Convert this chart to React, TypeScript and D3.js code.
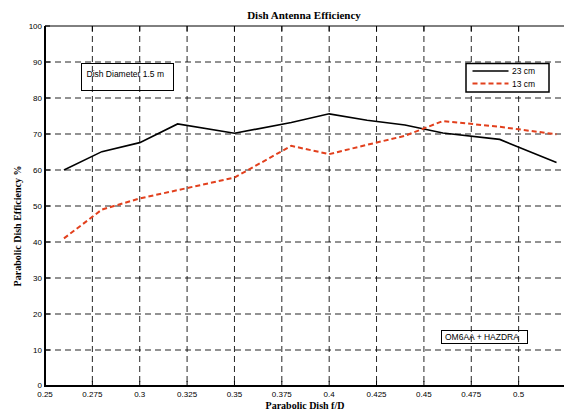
import React from 'react';
import * as d3 from 'd3';

// f/D values where efficiency was computed
const fd = [0.26, 0.28, 0.3, 0.32, 0.35, 0.38, 0.4, 0.42, 0.44, 0.46, 0.49, 0.52];
// efficiency %, 23 cm band
const eff23 = [60, 65.1, 67.6, 72.8, 70.2, 73.2, 75.6, 73.8, 72.5, 70.3, 68.5, 62.1];
// efficiency %, 13 cm band
const eff13 = [41, 49, 52.1, 54.4, 57.9, 66.7, 64.4, 67, 69.5, 73.6, 72, 69.9];

const xTicks = [0.25, 0.275, 0.3, 0.325, 0.35, 0.375, 0.4, 0.425, 0.45, 0.475, 0.5];
const yTicks = [0, 10, 20, 30, 40, 50, 60, 70, 80, 90, 100];
const seriesNames = ['23 cm', '13 cm'];

const W = 564, H = 413;
const left = 45, right = 566, top = 26, bottom = 386;
const red = '#e2401d';
const sans = 'Liberation Sans, Arial, sans-serif';
const serif = 'Liberation Serif, Times New Roman, serif';

export default function App() {
  const x = d3.scaleLinear().domain([0.25, 0.525]).range([left, right]);
  const y = d3.scaleLinear().domain([0, 100]).range([bottom, top]);

  const line = d3.line<number>()
    .x((d, i) => x(fd[i]))
    .y(d => y(d));

  return (
    <svg width={W} height={H} style={{ position: 'absolute', left: 0, top: 0, background: '#fff' }}>
      {/* grid */}
      {yTicks.filter(t => t > 0 && t < 100).map(t => (
        <line key={'gy' + t} x1={left} x2={right} y1={y(t)} y2={y(t)}
          stroke="#000" strokeWidth={1} strokeDasharray="6,4" opacity={0.85} />
      ))}
      {xTicks.filter(t => t > 0.25).map(t => (
        <line key={'gx' + t} x1={x(t)} x2={x(t)} y1={top} y2={bottom}
          stroke="#000" strokeWidth={1} strokeDasharray="6,4" opacity={0.85} />
      ))}

      {/* frame */}
      <line x1={left} x2={right} y1={top} y2={top} stroke="#000" strokeWidth={1} />
      <line x1={left} x2={left} y1={top} y2={bottom + 1} stroke="#000" strokeWidth={2} />
      <line x1={left - 1} x2={right} y1={bottom} y2={bottom} stroke="#000" strokeWidth={2} />

      {/* ticks + labels */}
      {yTicks.map(t => (
        <g key={'ty' + t}>
          <line x1={left} x2={left + 5} y1={y(t)} y2={y(t)} stroke="#000" strokeWidth={1} />
          <text x={42} y={y(t) + (t === 0 ? 2 : 3)} textAnchor="end" fontFamily={sans} fontSize={8}>{t}</text>
        </g>
      ))}
      {xTicks.map(t => (
        <g key={'tx' + t}>
          <line x1={x(t)} x2={x(t)} y1={bottom} y2={bottom - 5} stroke="#000" strokeWidth={1} />
          <line x1={x(t)} x2={x(t)} y1={top} y2={top + 5} stroke="#000" strokeWidth={1} />
          <text x={x(t)} y={397} textAnchor="middle" fontFamily={sans} fontSize={8}>{String(t)}</text>
        </g>
      ))}

      {/* series */}
      <path d={line(eff23) || ''} fill="none" stroke="#000" strokeWidth={1.6} />
      <path d={line(eff13) || ''} fill="none" stroke={red} strokeWidth={2} strokeDasharray="5,3" />

      {/* titles */}
      <text x={304} y={19} textAnchor="middle" fontFamily={serif} fontWeight="bold" fontSize={11}>Dish Antenna Efficiency</text>
      <text x={305} y={409} textAnchor="middle" fontFamily={serif} fontWeight="bold" fontSize={10}>Parabolic Dish f/D</text>
      <text transform="translate(21,226) rotate(-90)" textAnchor="middle" fontFamily={serif} fontWeight="bold" fontSize={10}>Parabolic Dish Efficiency %</text>

      {/* annotation boxes */}
      <rect x={81.5} y={63.5} width={92} height={27} fill="none" stroke="#000" strokeWidth={1} />
      <text x={86.5} y={77} fontFamily={sans} fontSize={8.5}>Dish Diameter 1.5 m</text>

      <rect x={441.5} y={330.5} width={86} height={13} fill="none" stroke="#000" strokeWidth={1} />
      <text x={445} y={339.5} fontFamily={sans} fontSize={8.5}>OM6AA + HAZDRA</text>

      {/* legend */}
      <rect x={466} y={63.5} width={83} height={28.5} fill="#fff" stroke="#000" strokeWidth={1.5} />
      <line x1={472.5} x2={508.5} y1={71} y2={71} stroke="#000" strokeWidth={1.6} />
      <text x={512} y={74} fontFamily={sans} fontSize={8.5}>{seriesNames[0]}</text>
      <line x1={472.5} x2={508.5} y1={83.5} y2={83.5} stroke={red} strokeWidth={2} strokeDasharray="5,3" />
      <text x={512} y={86.5} fontFamily={sans} fontSize={8.5}>{seriesNames[1]}</text>
    </svg>
  );
}
